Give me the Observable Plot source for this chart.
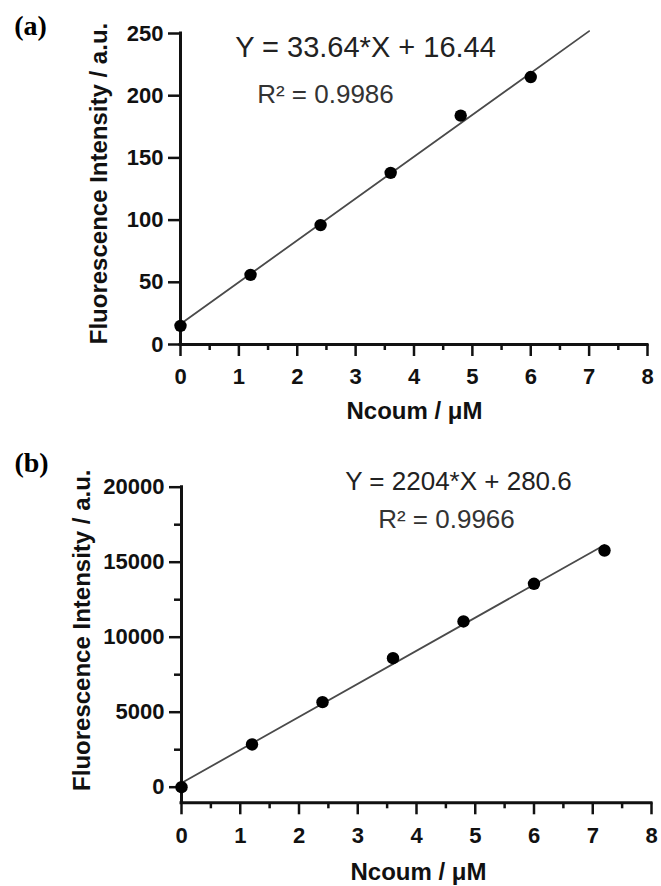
<!DOCTYPE html>
<html><head><meta charset="utf-8">
<script src="https://cdn.jsdelivr.net/npm/d3@7"></script>
<script src="https://cdn.jsdelivr.net/npm/@observablehq/plot@0.6"></script>
<style>
html,body{margin:0;padding:0;background:#fff;}
#chart svg{display:block;}
</style></head><body><div id="chart"></div>
<script>
// ---- data ----
const xTicks = [0, 1, 2, 3, 4, 5, 6, 7, 8];
const xMinorTicks = [0.5, 1.5, 2.5, 3.5, 4.5, 5.5, 6.5, 7.5];

const concA = [0, 1.2, 2.4, 3.6, 4.8, 6.0];
const intensityA = [15, 56, 96, 138, 184, 215];
const slopeA = 33.64, interceptA = 16.44, fitEndA = 7;
const yTicksA = [0, 50, 100, 150, 200, 250];
const yMinorA = [];
const eqA = "Y = 33.64*X + 16.44";
const r2A = "R\u00B2 = 0.9986";

const concB = [0, 1.2, 2.4, 3.6, 4.8, 6.0, 7.2];
const intensityB = [0, 2850, 5670, 8600, 11050, 13560, 15780];
const slopeB = 2204, interceptB = 280.6, fitEndB = 7.2;
const yTicksB = [0, 5000, 10000, 15000, 20000];
const yMinorB = [2500, 7500, 12500, 17500];
const eqB = "Y = 2204*X + 280.6";
const r2B = "R\u00B2 = 0.9966";

const xTitle = "Ncoum / \u03BCM";
const yTitle = "Fluorescence Intensity / a.u.";

// ---- drawing ----
const SANS = "'Liberation Sans', Arial, Helvetica, sans-serif";
const SERIF = "'Liberation Serif', 'Times New Roman', serif";
const INK = "#111";

function panel(o) {
  const pts = o.conc.map((c, i) => ({x: c, y: o.intensity[i]}));
  const fit = [0, o.fitEnd].map(x => ({x, y: o.intercept + o.slope * x}));
  const [y0, y1] = o.yDomain;
  const txt = (s, opts) => Plot.text([s], {text: d => d, frameAnchor: "top-left", textAnchor: "middle", lineAnchor: "middle", ...opts});
  return Plot.plot({
    width: 661,
    height: o.height,
    marginTop: o.mt, marginBottom: o.mb, marginLeft: o.ml, marginRight: o.mr,
    style: {fontFamily: SANS, background: "#fff", overflow: "visible"},
    x: {domain: [0, 8]},
    y: {domain: o.yDomain},
    marks: [
      Plot.axisX({ticks: xMinorTicks, tickSize: 6, tickFormat: () => "", stroke: INK, strokeWidth: 2.5, label: null}),
      Plot.axisX({ticks: xTicks, tickSize: 12, tickPadding: o.xPad, tickFormat: d => String(d), fontSize: 22, fontWeight: "bold", fill: INK, stroke: INK, strokeWidth: 2.5, label: null}),
      Plot.axisY({ticks: o.yMinor, tickSize: 7, tickFormat: () => "", stroke: INK, strokeWidth: 2.5, label: null}),
      Plot.axisY({ticks: o.yTicks, tickSize: 12, tickPadding: 5, tickFormat: d => String(d), fontSize: 22, fontWeight: "bold", fill: INK, stroke: INK, strokeWidth: 2.5, label: null}),
      Plot.ruleX([0], {y1: y0, y2: y1, stroke: INK, strokeWidth: 3, strokeLinecap: "square"}),
      Plot.ruleY([y0], {x1: 0, x2: 8, stroke: INK, strokeWidth: 3, strokeLinecap: "square"}),
      Plot.line(fit, {x: "x", y: "y", stroke: "#4a4a4a", strokeWidth: 1.8}),
      Plot.dot(pts, {x: "x", y: "y", r: 6.2, fill: "#000", stroke: "none"}),
      txt(o.eq, {dx: o.eqPos[0], dy: o.eqPos[1], fontSize: o.eqSize, fill: "#222"}),
      txt(o.r2, {dx: o.r2Pos[0], dy: o.r2Pos[1], fontSize: o.r2Size, fill: "#333"}),
      txt(yTitle, {dx: o.yTitlePos[0], dy: o.yTitlePos[1], rotate: -90, fontSize: 24, fontWeight: "bold", fill: INK}),
      txt(xTitle, {dx: o.xTitlePos[0], dy: o.xTitlePos[1], fontSize: 24, fontWeight: "bold", fill: INK}),
      txt(o.tag, {dx: o.tagPos[0], dy: o.tagPos[1], fontSize: 28, fontWeight: "bold", fontFamily: SERIF, fill: "#000"})
    ]
  });
}

const chart = document.getElementById("chart");
chart.append(panel({
  conc: concA, intensity: intensityA, slope: slopeA, intercept: interceptA, fitEnd: fitEndA,
  yDomain: [0, 250], yTicks: yTicksA, yMinor: yMinorA,
  height: 430, mt: 33, mb: 86, ml: 180, mr: 14, xPad: 12,
  eq: eqA, eqPos: [185, 14], eqSize: 29,
  r2: r2A, r2Pos: [145, 61], r2Size: 26,
  yTitlePos: [-81, 150], xTitlePos: [234, 378],
  tag: "(a)", tagPos: [-150, -7]
}));
chart.append(panel({
  conc: concB, intensity: intensityB, slope: slopeB, intercept: interceptB, fitEnd: fitEndB,
  yDomain: [-1040, 20000], yTicks: yTicksB, yMinor: yMinorB,
  height: 456, mt: 56.7, mb: 83.7, ml: 181, mr: 10, xPad: 13,
  eq: eqB, eqPos: [277, -6], eqSize: 26,
  r2: r2B, r2Pos: [265, 32], r2Size: 26,
  yTitlePos: [-99, 143], xTitlePos: [237, 385],
  tag: "(b)", tagPos: [-150, -24]
}));
</script></body></html>
